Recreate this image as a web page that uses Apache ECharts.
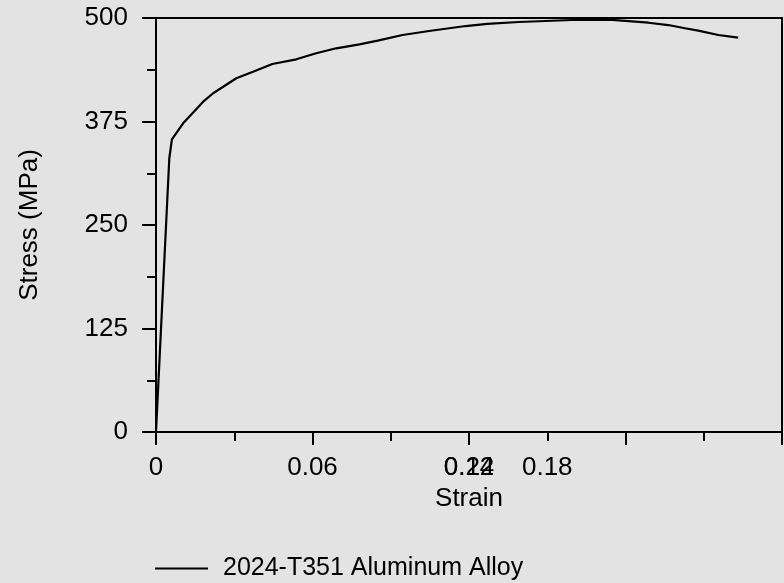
<!DOCTYPE html>
<html>
<head>
<meta charset="utf-8">
<script src="https://cdn.jsdelivr.net/npm/echarts@6/dist/echarts.min.js"></script>
<style>
  html, body { margin: 0; padding: 0; background: #e3e3e3; }
  #chart { width: 784px; height: 583px; }
</style>
</head>
<body>
<div id="chart"></div>
<script>
// strain / stress
const strain = [0, 0.0051, 0.0061, 0.0104, 0.0181, 0.0219, 0.0308, 0.0372, 0.0446, 0.0538,
  0.0614, 0.0691, 0.0780, 0.0850, 0.0945, 0.1047, 0.1187, 0.1270, 0.1391, 0.1595,
  0.1735, 0.1888, 0.1964, 0.2028, 0.2079, 0.2156, 0.2232]
const stress = [0, 330.6, 353.5, 372.8, 398.9, 409.1, 427.2, 435.1, 444.4, 450.1,
  457.4, 463.4, 468.2, 472.6, 479.5, 484.3, 490.3, 492.8, 495.2, 497.6,
  498.0, 494.3, 491.5, 487.6, 484.7, 479.5, 476.2]

// x tick labels as drawn (positions and texts)
const xLabelValues = [0, 0.06, 0.12, 0.15]
const xLabelTexts = ['0', '0.06', '0.12', '0.18']
const xOverlapValues = [0.12]
const xOverlapTexts = ['0.24']
const yTicks = [0, 125, 250, 375, 500]

const seriesName = '2024-T351 Aluminum Alloy'
const font = '"Liberation Sans", Arial, sans-serif'
const fs = 26

const chart = echarts.init(document.getElementById('chart'))

const data = strain.map((s, i) => [s, stress[i]])

chart.setOption({
  backgroundColor: '#e3e3e3',
  animation: false,
  textStyle: { fontFamily: font },
  grid: {
    left: 156, right: 2, top: 18, bottom: 151,
    show: true, borderColor: '#000', borderWidth: 2, backgroundColor: 'transparent'
  },
  legend: {
    data: [{ name: seriesName, icon: 'rect' }],
    left: 150, top: 551,
    itemWidth: 53, itemHeight: 2,
    textStyle: { fontSize: 25, color: '#000', fontFamily: font, padding: [0, 0, 0, 10] }
  },
  xAxis: [
    {
      type: 'value',
      min: 0, max: 0.24, interval: 0.06,
      name: 'Strain',
      nameLocation: 'middle',
      nameGap: 50,
      nameTextStyle: { fontSize: fs, color: '#000', fontFamily: font },
      axisLine: { show: true, onZero: false, lineStyle: { color: '#000', width: 2 } },
      axisTick: { show: true, inside: false, length: 13, lineStyle: { color: '#000', width: 2 } },
      minorTick: { show: true, splitNumber: 2, length: 9, lineStyle: { color: '#000', width: 2 } },
      splitLine: { show: false },
      axisLabel: {
        customValues: xLabelValues,
        formatter: v => xLabelTexts[xLabelValues.indexOf(v)] ?? '',
        fontSize: fs, color: '#000', fontFamily: font, margin: 23
      }
    },
    {
      type: 'value',
      position: 'bottom',
      min: 0, max: 0.24, interval: 0.06,
      axisLine: { show: false },
      axisTick: { show: false },
      splitLine: { show: false },
      axisLabel: {
        customValues: xOverlapValues,
        formatter: v => xOverlapTexts[xOverlapValues.indexOf(v)] ?? '',
        fontSize: fs, color: '#000', fontFamily: font, margin: 23
      }
    }
  ],
  yAxis: {
    type: 'value',
    min: yTicks[0], max: yTicks[yTicks.length - 1], interval: 125,
    name: 'Stress (MPa)',
    nameLocation: 'middle',
    nameGap: 113,
    nameTextStyle: { fontSize: fs, color: '#000', fontFamily: font },
    axisLine: { show: true, onZero: false, lineStyle: { color: '#000', width: 2 } },
    axisTick: { show: true, inside: false, length: 14, lineStyle: { color: '#000', width: 2 } },
    minorTick: { show: true, splitNumber: 2, length: 9, lineStyle: { color: '#000', width: 2 } },
    splitLine: { show: false },
    axisLabel: { fontSize: fs, color: '#000', fontFamily: font, margin: 28 }
  },
  series: [
    {
      name: seriesName,
      type: 'line',
      data: data,
      symbol: 'none',
      smooth: false,
      lineStyle: { color: '#000', width: 2.2 },
      itemStyle: { color: '#000' }
    }
  ]
})
</script>
</body>
</html>
